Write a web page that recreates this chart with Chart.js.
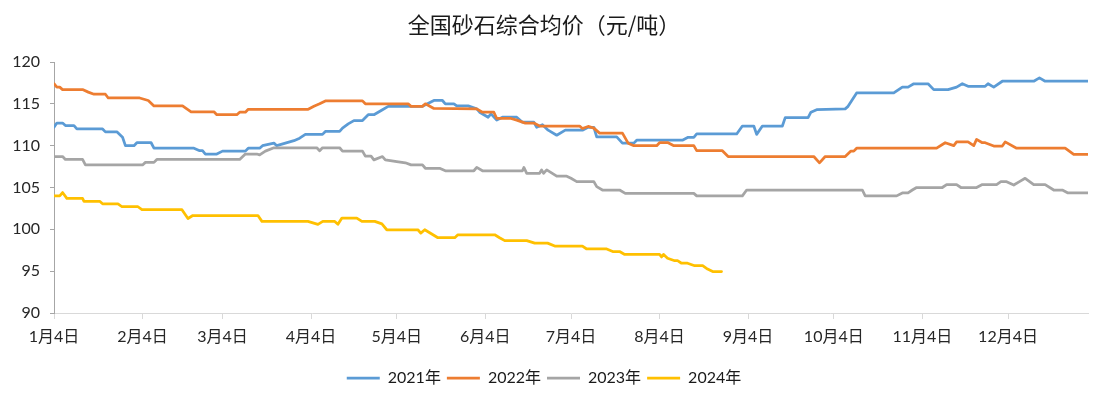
<!DOCTYPE html>
<html>
<head>
<meta charset="utf-8">
<script src="https://cdn.jsdelivr.net/npm/chart.js@4.4.1/dist/chart.umd.min.js"></script>
<style>
    body { margin: 0; background: #fff; }
    .chart-box { width: 1106px; height: 407px; }
</style>
</head>
<body>
<div class="chart-box"><canvas id="price"></canvas></div>
<script>
// x = days since Jan 4, y = price (yuan/ton)
var tickDays = [0, 31, 59, 90, 120, 151, 181, 212, 243, 273, 304, 334]
var tickLabels = ["1月4日", "2月4日", "3月4日", "4月4日", "5月4日", "6月4日", "7月4日", "8月4日", "9月4日", "10月4日", "11月4日", "12月4日"]

var days2021 = [0,1,3,4,7,8,17,18,22,24,25,28,29,34,35,49,51,52,53,57,59,67,68,72,73,77,78,81,84,86,88,94,95,100,101,103,105,108,110,112,115,117,129,133,136,137,140,141,145,148,149,152,153,155,157,162,164,168,169,171,173,176,179,185,187,189,190,197,199,203,204,220,222,224,225,239,241,245,246,248,255,256,264,265,267,277,278,281,294,297,299,301,306,308,313,316,318,320,326,327,329,332,343,345,347,362]
var price2021 = [112.2,112.7,112.7,112.4,112.4,112.0,112.0,111.65,111.65,111.0,110.0,110.0,110.35,110.35,109.7,109.7,109.4,109.4,109.0,109.0,109.35,109.35,109.7,109.7,110.0,110.3,110.0,110.3,110.6,110.9,111.35,111.35,111.7,111.7,112.1,112.6,113.0,113.0,113.7,113.7,114.3,114.7,114.7,115.4,115.4,115.0,115.0,114.75,114.75,114.4,114.0,113.4,113.8,113.05,113.4,113.4,112.8,112.8,112.2,112.5,111.85,111.25,111.85,111.85,112.2,112.2,111.05,111.05,110.3,110.3,110.65,110.65,111.0,111.0,111.4,111.4,112.35,112.35,111.35,112.35,112.35,113.35,113.35,114.0,114.3,114.4,114.7,116.3,116.3,117.0,117.0,117.4,117.4,116.7,116.7,117.0,117.4,117.1,117.1,117.4,117.0,117.7,117.7,118.1,117.7,117.7]

var days2022 = [0,1,2,3,10,12,14,18,19,30,33,35,45,48,56,57,64,65,67,68,89,91,93,95,108,109,124,125,129,130,133,148,150,154,155,160,162,165,168,170,184,185,187,189,191,199,201,203,211,212,215,217,224,225,234,236,266,268,270,277,279,280,281,309,312,315,316,320,322,323,325,326,329,332,333,337,354,357,362]
var price2022 = [117.4,117.0,117.0,116.7,116.7,116.4,116.15,116.15,115.7,115.7,115.4,114.75,114.75,114.05,114.05,113.7,113.7,114.0,114.0,114.35,114.35,114.7,115.0,115.35,115.35,115.0,115.0,114.7,114.7,115.0,114.45,114.4,114.0,114.0,113.25,113.25,113.05,112.7,112.7,112.35,112.35,112.05,112.3,112.1,111.5,111.5,110.3,110.0,110.0,110.35,110.35,110.0,110.0,109.4,109.4,108.7,108.7,107.95,108.7,108.7,109.35,109.35,109.7,109.7,110.35,110.0,110.45,110.45,110.0,110.75,110.35,110.35,109.95,109.95,110.45,109.7,109.7,108.95,108.95]

var days2023 = [0,3,4,10,11,31,32,35,36,65,67,71,72,74,77,92,93,94,100,101,108,109,111,112,115,116,120,123,125,129,130,135,137,147,148,150,164,164.5,165.5,170,170.7,171.4,172.5,176,179.5,181,183,189,190,192,198,200,224,225,241,242.5,283,284,295,297,299,300.5,302,311,312.5,316,317.5,323,325,330,331.5,333.5,336,338,340,343,347,350,353,355,362]
var price2023 = [108.7,108.7,108.35,108.35,107.7,107.7,108.0,108.0,108.35,108.35,109.0,109.0,108.9,109.35,109.75,109.75,109.4,109.75,109.75,109.35,109.35,108.75,108.75,108.3,108.7,108.3,108.1,107.95,107.7,107.7,107.3,107.3,107.0,107.0,107.4,107.0,107.0,107.4,106.7,106.7,107.1,106.7,107.1,106.35,106.35,106.1,105.7,105.7,105.1,104.7,104.7,104.3,104.3,104.0,104.0,104.7,104.7,104.0,104.0,104.35,104.35,104.7,105.0,105.0,105.35,105.35,105.0,105.0,105.35,105.35,105.7,105.7,105.3,105.7,106.1,105.35,105.35,104.7,104.7,104.35,104.35]

var days2024 = [0,2,3,4.5,10,10.5,16,17,22.4,23.8,29.4,30.8,44.8,46.9,48.6,71.4,72.8,88.9,92.4,94.1,98.3,99.4,100.8,106,107.8,112.3,114.8,116.5,127.4,128.4,129.8,134.4,140.3,141.4,154.3,156,157.8,165.5,168.3,172.8,175.3,185,186.5,193.5,195.6,198,199.8,212,212.7,213.4,214.8,217.3,218.3,219.7,221.8,224.3,227.1,228.8,230.6,233.7]
var price2024 = [104.0,104.0,104.4,103.7,103.7,103.35,103.35,103.05,103.05,102.7,102.7,102.35,102.35,101.3,101.65,101.65,100.95,100.95,100.6,100.95,100.95,100.6,101.35,101.35,100.95,100.95,100.65,99.95,99.95,99.55,99.95,99.0,99.0,99.35,99.35,99.0,98.65,98.65,98.35,98.35,98.0,98.0,97.65,97.65,97.35,97.35,97.0,97.0,96.7,97.0,96.55,96.25,96.25,95.95,95.95,95.65,95.65,95.25,94.95,94.95]

var textFont = "Lato, 'Noto Sans CJK SC', sans-serif"

function toPoints(days, prices) {
    var pts = []
    for (var i = 0; i < days.length; i++) {
        pts.push({ x: days[i], y: prices[i] })
    }
    return pts
}

function createSeries(label, days, prices, color, order) {
    return {
        label: label,
        data: toPoints(days, prices),
        borderColor: color,
        backgroundColor: color,
        borderWidth: 2.75,
        borderCapStyle: "round",
        borderJoinStyle: "round",
        pointRadius: 0,
        tension: 0,
        fill: false,
        order: order
    }
}

var ctx = document.getElementById("price")
var priceChart = new Chart(ctx, {
    type: "line",
    data: {
        datasets: [
            createSeries("2021年", days2021, price2021, "#5B9BD5", 4),
            createSeries("2022年", days2022, price2022, "#ED7D31", 3),
            createSeries("2023年", days2023, price2023, "#A5A5A5", 2),
            createSeries("2024年", days2024, price2024, "#FFC000", 1)
        ]
    },
    options: {
        responsive: true,
        maintainAspectRatio: false,
        animation: false,
        layout: { padding: { left: 0, right: 18, top: 0, bottom: 11 } },
        plugins: {
            title: {
                display: true,
                text: "全国砂石综合均价（元/吨）",
                color: "#1a1a1a",
                font: { family: "'Noto Sans CJK SC', sans-serif", size: 22, weight: "normal" },
                padding: { top: 11, bottom: 24.6 }
            },
            legend: {
                position: "bottom",
                labels: {
                    usePointStyle: true,
                    pointStyle: "line",
                    pointStyleWidth: 33,
                    padding: 6,
                    color: "#1a1a1a",
                    font: { family: textFont, size: 16 },
                    sort: function(a, b) { return a.datasetIndex - b.datasetIndex }
                }
            },
            tooltip: { enabled: false }
        },
        scales: {
            x: {
                type: "linear",
                min: 0,
                max: 362,
                afterBuildTicks: function(axis) {
                    axis.ticks = tickDays.map(function(d) { return { value: d } })
                },
                afterFit: function(axis) { axis.height = 51 },
                ticks: {
                    autoSkip: false,
                    maxRotation: 0,
                    padding: 8,
                    color: "#262626",
                    font: { family: textFont, size: 16 },
                    callback: function(value) { return tickLabels[tickDays.indexOf(value)] }
                },
                grid: { drawOnChartArea: false, tickLength: 6, color: "#d9d9d9" },
                border: { color: "#d9d9d9" }
            },
            y: {
                min: 90,
                max: 120,
                afterFit: function(axis) { axis.width = 54 },
                ticks: {
                    stepSize: 5,
                    padding: 10,
                    color: "#262626",
                    font: { family: textFont, size: 16 }
                },
                grid: { drawOnChartArea: false, tickLength: 4, color: "#a6a6a6" },
                border: { color: "#a6a6a6" }
            }
        }
    }
})
</script>
</body>
</html>
